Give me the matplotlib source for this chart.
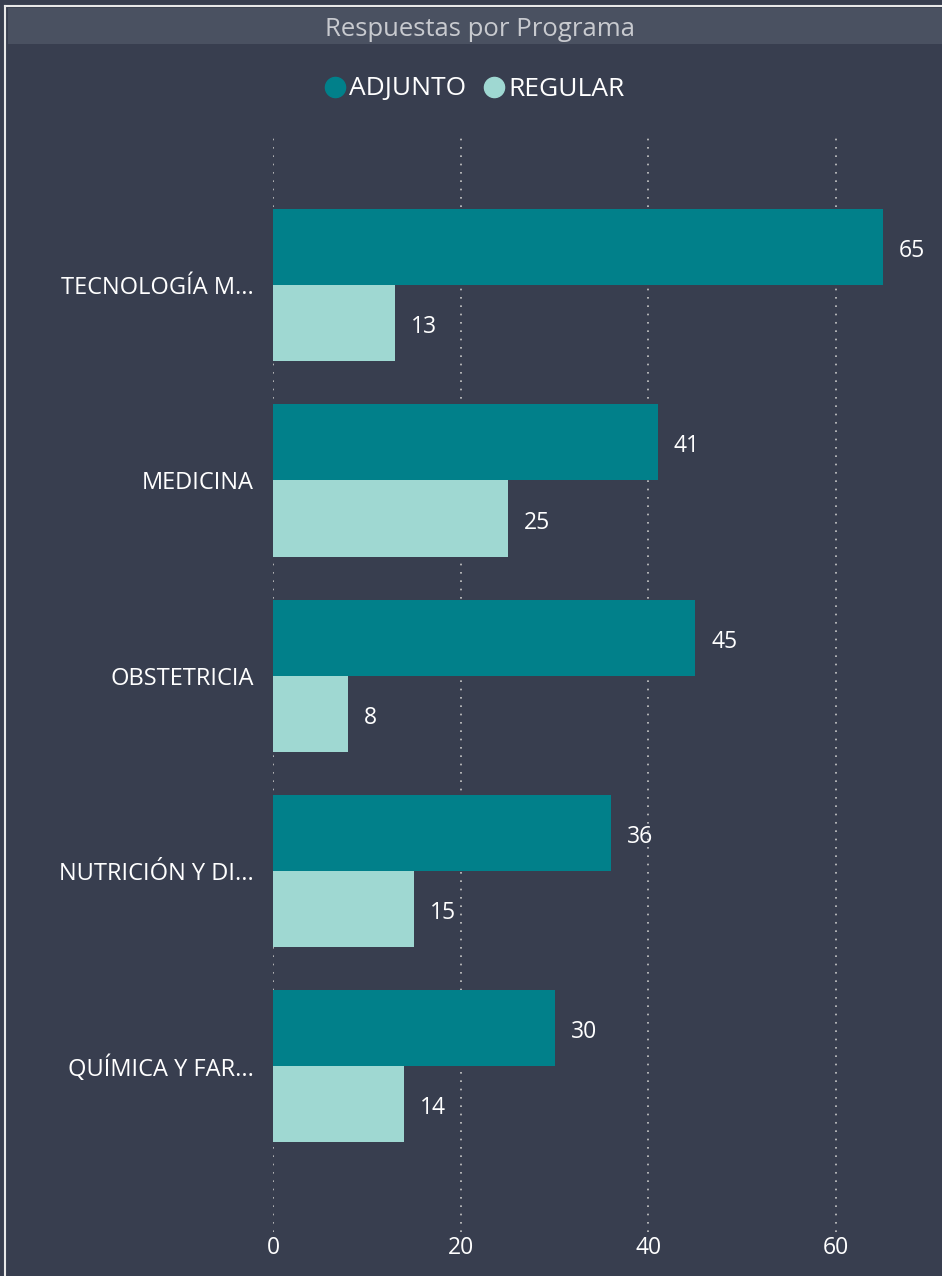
import matplotlib.pyplot as plt
import matplotlib.patches as mpatches
from matplotlib.lines import Line2D

programas = ['TECNOLOGÍA M...', 'MEDICINA', 'OBSTETRICIA', 'NUTRICIÓN Y DI...', 'QUÍMICA Y FAR...']
adjunto = [65, 41, 45, 36, 30]
regular = [13, 25, 8, 15, 14]
series_names = ['ADJUNTO', 'REGULAR']
x_ticks = [0, 20, 40, 60]

bg = '#383e4f'
band = '#4a5161'
c_adj = '#01808a'
c_reg = '#9fd8d2'
font = ['Open Sans', 'DejaVu Sans']
plt.rcParams['font.family'] = font

W, H = 942, 1276
fig = plt.figure(figsize=(W / 100, H / 100), dpi=100, facecolor=bg)

# title band and border
fig.patches.append(mpatches.Rectangle((8 / W, 1 - 44 / H), (W - 8) / W, 36 / H,
                                      transform=fig.transFigure, facecolor=band, edgecolor='none'))
fig.add_artist(Line2D([5 / W, 5 / W], [0, 1 - 6 / H], transform=fig.transFigure, color='#e8e8e8', lw=1.5))
fig.add_artist(Line2D([5 / W, 1], [1 - 6 / H, 1 - 6 / H], transform=fig.transFigure, color='#e8e8e8', lw=1.5))
fig.text(480 / W, 1 - 30 / H, 'Respuestas por Programa', ha='center', va='center',
         color='#c8cacf', fontsize=18.5)

# legend
lx = [335, 494]
for i, name in enumerate(series_names):
    col = c_adj if i == 0 else c_reg
    fig.add_artist(Line2D([lx[i] / W], [1 - 87 / H], transform=fig.transFigure, marker='o',
                          markersize=14.5, color=col, lw=0))
    fig.text((lx[i] + 14) / W, 1 - 89 / H, name, ha='left', va='center', color='white', fontsize=19)

left, right = 273, 930
top, bottom = 135, 1232
ax = fig.add_axes([left / W, 1 - bottom / H, (right - left) / W, (bottom - top) / H])
ax.set_facecolor(bg)

ypos = list(range(len(programas)))
h = 0.39
ax.barh([y - h / 2 for y in ypos], adjunto, height=h, color=c_adj, zorder=3)
ax.barh([y + h / 2 for y in ypos], regular, height=h, color=c_reg, zorder=3)

for y, v in zip(ypos, adjunto):
    ax.annotate(str(v), (v, y - h / 2), xytext=(16, -4), textcoords='offset pixels',
                ha='left', va='center', color='white', fontsize=16.5, zorder=4)
for y, v in zip(ypos, regular):
    ax.annotate(str(v), (v, y + h / 2), xytext=(16, -4), textcoords='offset pixels',
                ha='left', va='center', color='white', fontsize=16.5, zorder=4)

ax.set_xlim(0, 70)
ax.set_ylim(len(programas) - 1 + 0.85, -0.77)
ax.set_xticks(x_ticks)
ax.set_yticks(ypos)
ax.set_yticklabels(programas)
ax.tick_params(axis='x', length=0, colors='white', labelsize=16.5, pad=3)
ax.tick_params(axis='y', length=0, colors='white', labelsize=17, pad=13.7)
ax.grid(axis='x', color='#c8c8c8', linestyle=(0, (1, 4)), lw=1.2, zorder=0)
for s in ax.spines.values():
    s.set_visible(False)

fig.savefig('out.png', dpi=100, facecolor=bg)
